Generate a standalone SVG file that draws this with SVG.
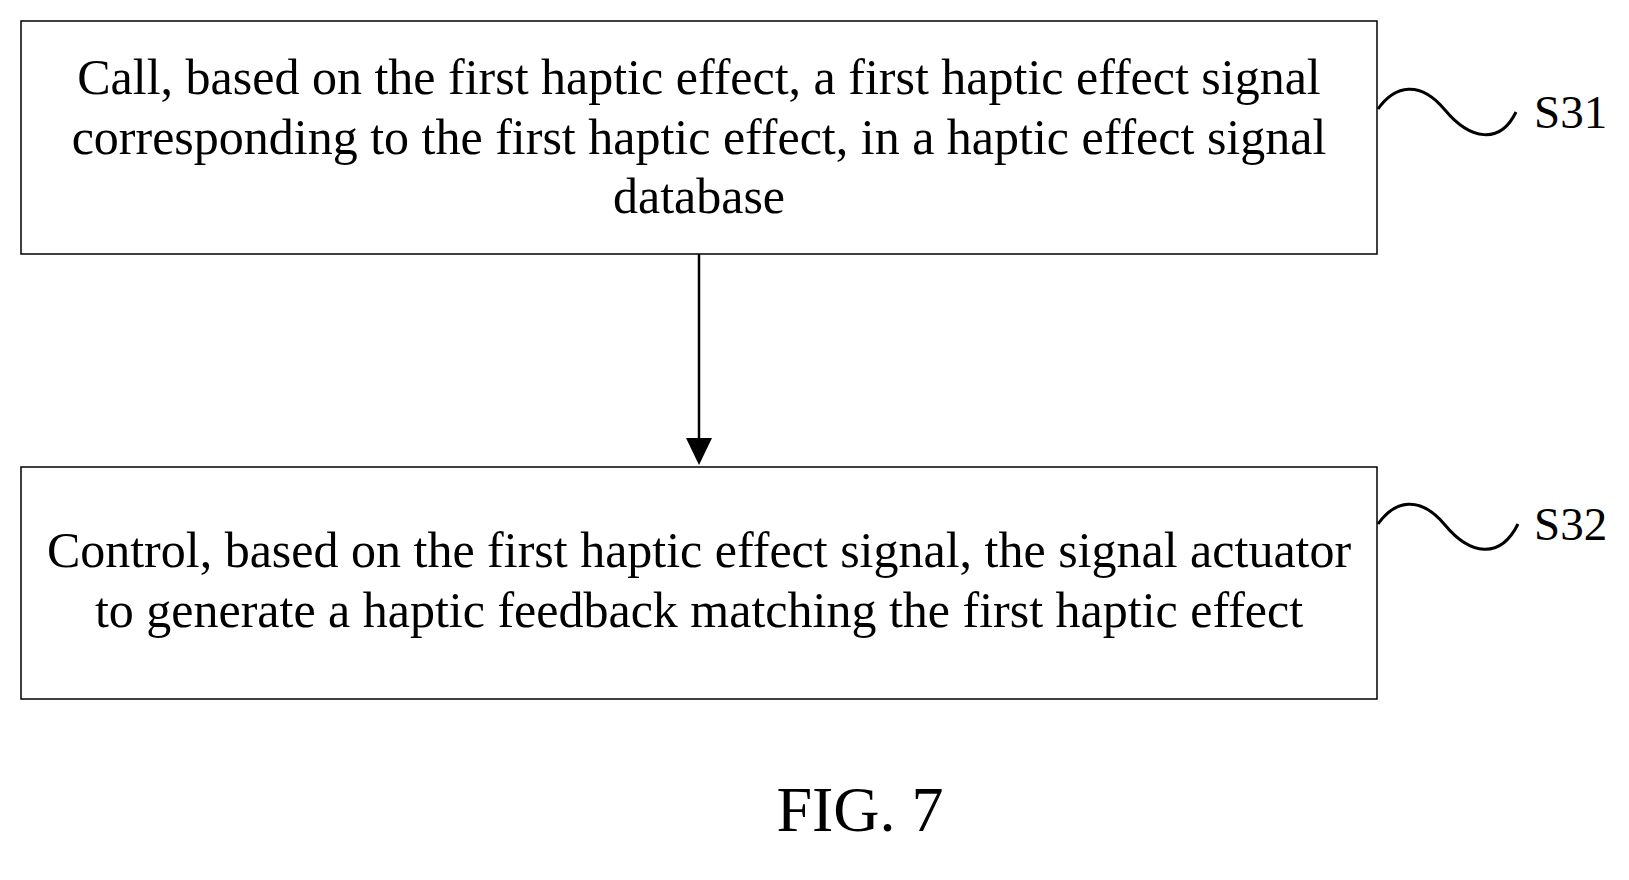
<svg xmlns="http://www.w3.org/2000/svg" width="1629" height="880" viewBox="0 0 1629 880">
<style>
.box{fill:#fff;stroke:#000;stroke-width:1.5}
.t{font-family:"Liberation Serif",serif;font-size:50px;text-anchor:middle;fill:#000}
.lbl{font-family:"Liberation Serif",serif;font-size:47px;fill:#000}
.sq{fill:none;stroke:#000;stroke-width:3}
</style>
<rect width="1629" height="880" fill="#fff"/>
<g id="S31">
<rect class="box" x="21" y="21" width="1356" height="233"/>
<text class="t" x="699" y="94">Call, based on the first haptic effect, a first haptic effect signal</text>
<text class="t" x="699" y="154">corresponding to the first haptic effect, in a haptic effect signal</text>
<text class="t" x="699" y="213">database</text>
<path class="sq" d="M1378,109 C1395,85 1420,80 1445,110 C1470,140 1500,145 1516,112"/>
<text class="lbl" x="1534" y="128">S31</text>
</g>
<g id="S32">
<rect class="box" x="21" y="467" width="1356" height="232"/>
<text class="t" x="699" y="567">Control, based on the first haptic effect signal, the signal actuator</text>
<text class="t" x="699" y="627">to generate a haptic feedback matching the first haptic effect</text>
<path class="sq" d="M1378,524 C1395,500 1420,495 1445,525 C1470,555 1500,560 1518,524"/>
<text class="lbl" x="1534" y="540">S32</text>
</g>
<g id="connectors">
<line x1="699" y1="254" x2="699" y2="440" stroke="#000" stroke-width="2.5"/>
<path d="M686,438 L712,438 L699,465 z"/>
</g>
<text class="t" x="860" y="831" style="font-size:64px">FIG. 7</text>
</svg>
